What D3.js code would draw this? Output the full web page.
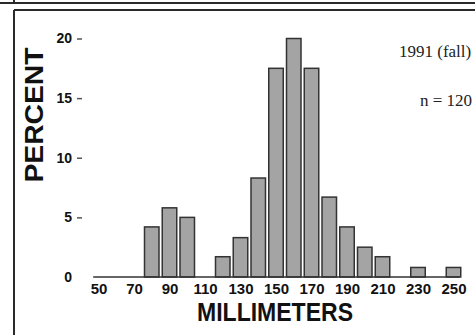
<!DOCTYPE html>
<html>
<head>
<meta charset="utf-8">
<script src="https://cdnjs.cloudflare.com/ajax/libs/d3/7.8.5/d3.min.js"></script>
<style>
  body { margin: 0; background: #fff; }
  svg { display: block; }
</style>
</head>
<body>
<script>
// size classes (mm) and percent of fish, n = 120
var classes = [80, 90, 100, 110, 120, 130, 140, 150, 160, 170, 180, 190, 200, 210, 220, 230, 240, 250];
var percents = [4.2, 5.8, 5.0, 0, 1.7, 3.3, 8.3, 17.5, 20.0, 17.5, 6.7, 4.2, 2.5, 1.7, 0, 0.8, 0, 0.8];
var xTicks = [50, 70, 90, 110, 130, 150, 170, 190, 210, 230, 250];
var yTicks = [0, 5, 10, 15, 20];

var W = 475, H = 335;

var svg = d3.select("body").append("svg")
    .attr("width", W)
    .attr("height", H);

// frame lines (scanned page)
var frame = svg.append("g").attr("stroke", "#2a2a2a").attr("stroke-width", 2).attr("fill", "none");
frame.append("line").attr("x1", 0).attr("x2", W).attr("y1", 3).attr("y2", 3);
frame.append("line").attr("x1", 14).attr("x2", 14).attr("y1", 0).attr("y2", 3);
frame.append("line").attr("x1", 14).attr("x2", W).attr("y1", 10).attr("y2", 10);
frame.append("line").attr("x1", 14).attr("x2", 14).attr("y1", 10).attr("y2", H);

var xScale = d3.scaleLinear().domain([50, 250]).range([98.5, 453.5]);
var yScale = d3.scaleLinear().domain([0, 20]).range([277, 38.5]);
var barW = 14.5;

var data = classes.map(function (c, i) {
    return { size: c, pct: percents[i] };
}).filter(function (d) { return d.pct > 0; });

// bars
svg.selectAll(".bar")
    .data(data)
    .enter()
    .append("rect")
    .attr("class", "bar")
    .attr("x", function (d) { return xScale(d.size) - barW / 2; })
    .attr("width", barW)
    .attr("y", function (d) { return yScale(d.pct); })
    .attr("height", function (d) { return yScale(0) - yScale(d.pct); })
    .attr("fill", "#a4a4a4")
    .attr("stroke", "#333")
    .attr("stroke-width", 1.5);

// baseline
svg.append("line")
    .attr("x1", xScale(47)).attr("x2", xScale(253.5))
    .attr("y1", yScale(0)).attr("y2", yScale(0))
    .attr("stroke", "#333").attr("stroke-width", 1.5);

// x axis
var xAxis = d3.axisBottom(xScale).tickValues(xTicks).tickSize(0);
var xg = svg.append("g")
    .attr("transform", "translate(0," + yScale(0) + ")")
    .call(xAxis);
xg.select(".domain").remove();
xg.selectAll("text")
    .attr("y", 17).attr("dy", 0)
    .attr("fill", "#111")
    .style("font-family", "'Liberation Sans', Arial, sans-serif")
    .style("font-weight", "bold")
    .style("font-size", "15px");

// y axis
var yAxis = d3.axisLeft(yScale).tickValues(yTicks).tickSize(5).tickPadding(5);
var yg = svg.append("g")
    .attr("transform", "translate(82,0)")
    .call(yAxis);
yg.select(".domain").remove();
yg.selectAll(".tick line").attr("stroke", "#555").attr("stroke-width", 1.5);
yg.selectAll(".tick").filter(function (d) { return d === 0; }).select("line").remove();
yg.selectAll("text")
    .attr("fill", "#111")
    .style("font-family", "'Liberation Sans', Arial, sans-serif")
    .style("font-weight", "bold")
    .style("font-size", "14px");

// axis titles
svg.append("text")
    .attr("transform", "translate(43,115) rotate(-90)")
    .attr("text-anchor", "middle")
    .attr("textLength", 135)
    .attr("lengthAdjust", "spacingAndGlyphs")
    .attr("fill", "#111")
    .style("font-family", "'Liberation Sans', Arial, sans-serif")
    .style("font-weight", "bold")
    .style("font-size", "25px")
    .text("PERCENT");

svg.append("text")
    .attr("x", 275).attr("y", 321)
    .attr("text-anchor", "middle")
    .attr("textLength", 156)
    .attr("lengthAdjust", "spacingAndGlyphs")
    .attr("fill", "#111")
    .style("font-family", "'Liberation Sans', Arial, sans-serif")
    .style("font-weight", "bold")
    .style("font-size", "25px")
    .text("MILLIMETERS");

// annotations
svg.append("text")
    .attr("x", 399).attr("y", 57)
    .attr("fill", "#222")
    .style("font-family", "'Liberation Serif', 'Times New Roman', serif")
    .style("font-size", "17px")
    .text("1991 (fall)");

svg.append("text")
    .attr("x", 420).attr("y", 106)
    .attr("fill", "#222")
    .style("font-family", "'Liberation Serif', 'Times New Roman', serif")
    .style("font-size", "17px")
    .text("n = 120");
</script>
</body>
</html>
